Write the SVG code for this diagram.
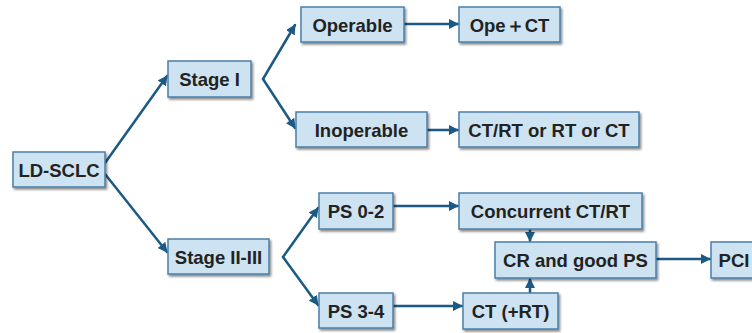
<svg xmlns="http://www.w3.org/2000/svg" width="752" height="333" viewBox="0 0 752 333">
<defs>
<filter id="sh" x="-10%" y="-10%" width="130%" height="140%">
<feDropShadow dx="1.5" dy="2" stdDeviation="1.2" flood-color="#000" flood-opacity="0.45"/>
</filter>
<marker id="ah" viewBox="0 0 10 10" refX="9" refY="5" markerWidth="4" markerHeight="4" orient="auto" markerUnits="strokeWidth">
<path d="M0,0 L10,5 L0,10 z" fill="#1b5a85"/>
</marker>
</defs>
<style>
.box{fill:#cde3f1;stroke:#4a7fa8;stroke-width:1.5;filter:url(#sh)}
.t{font-family:"Liberation Sans",Arial,sans-serif;font-weight:bold;font-size:18.5px;fill:#222;text-anchor:middle;dominant-baseline:central}
.c{fill:none;stroke:#1b5a85;stroke-width:2.5;stroke-linecap:round}
</style>
<rect width="752" height="333" fill="#fff"/>
<g id="connectors">
<line class="c" x1="105" y1="163" x2="167" y2="76" marker-end="url(#ah)"/>
<line class="c" x1="105" y1="174" x2="167" y2="252" marker-end="url(#ah)"/>
<line class="c" x1="263" y1="79" x2="295" y2="25" marker-end="url(#ah)"/>
<line class="c" x1="263" y1="79" x2="295" y2="128" marker-end="url(#ah)"/>
<line class="c" x1="283" y1="257" x2="318" y2="208" marker-end="url(#ah)"/>
<line class="c" x1="283" y1="257" x2="318" y2="305" marker-end="url(#ah)"/>
<line class="c" x1="404" y1="24" x2="458" y2="24" marker-end="url(#ah)"/>
<line class="c" x1="427" y1="130" x2="458" y2="130" marker-end="url(#ah)"/>
<line class="c" x1="393" y1="206" x2="458" y2="206" marker-end="url(#ah)"/>
<line class="c" x1="393" y1="306" x2="462" y2="306" marker-end="url(#ah)"/>
<line class="c" x1="530" y1="229" x2="530" y2="241" marker-end="url(#ah)"/>
<line class="c" x1="530" y1="293" x2="530" y2="279" marker-end="url(#ah)"/>
<line class="c" x1="656" y1="259" x2="710" y2="259" marker-end="url(#ah)"/>
</g>
<g id="n-ldsclc"><rect class="box" x="13" y="152" width="92" height="35"/><text class="t" x="59" y="170">LD-SCLC</text></g>
<g id="n-stage1"><rect class="box" x="168" y="61" width="83" height="36"/><text class="t" x="209.5" y="79">Stage I</text></g>
<g id="n-stage23"><rect class="box" x="168" y="239" width="101" height="35"/><text class="t" x="218.5" y="257">Stage II-III</text></g>
<g id="n-operable"><rect class="box" x="301" y="7" width="103" height="35"/><text class="t" x="352.5" y="25">Operable</text></g>
<g id="n-opect"><rect class="box" x="459" y="7" width="101" height="35"/><text class="t" x="509.5" y="25">Ope＋CT</text></g>
<g id="n-inoperable"><rect class="box" x="296" y="112" width="131" height="35"/><text class="t" x="361.5" y="130">Inoperable</text></g>
<g id="n-ctrt"><rect class="box" x="459" y="112" width="180" height="35"/><text class="t" x="549" y="130">CT/RT or RT or CT</text></g>
<g id="n-ps02"><rect class="box" x="319" y="193" width="74" height="36"/><text class="t" x="356" y="211">PS 0-2</text></g>
<g id="n-ps34"><rect class="box" x="319" y="293" width="74" height="35"/><text class="t" x="356" y="311">PS 3-4</text></g>
<g id="n-concurrent"><rect class="box" x="459" y="193" width="183" height="36"/><text class="t" x="550.5" y="211">Concurrent CT/RT</text></g>
<g id="n-cr"><rect class="box" x="495" y="242" width="161" height="36"/><text class="t" x="575.5" y="260">CR and good PS</text></g>
<g id="n-ctplus"><rect class="box" x="463" y="293" width="95" height="36"/><text class="t" x="510.5" y="311">CT (+RT)</text></g>
<g id="n-pci"><rect class="box" x="711" y="242" width="50" height="36"/><text class="t" x="734" y="260">PCI</text></g>
</svg>
